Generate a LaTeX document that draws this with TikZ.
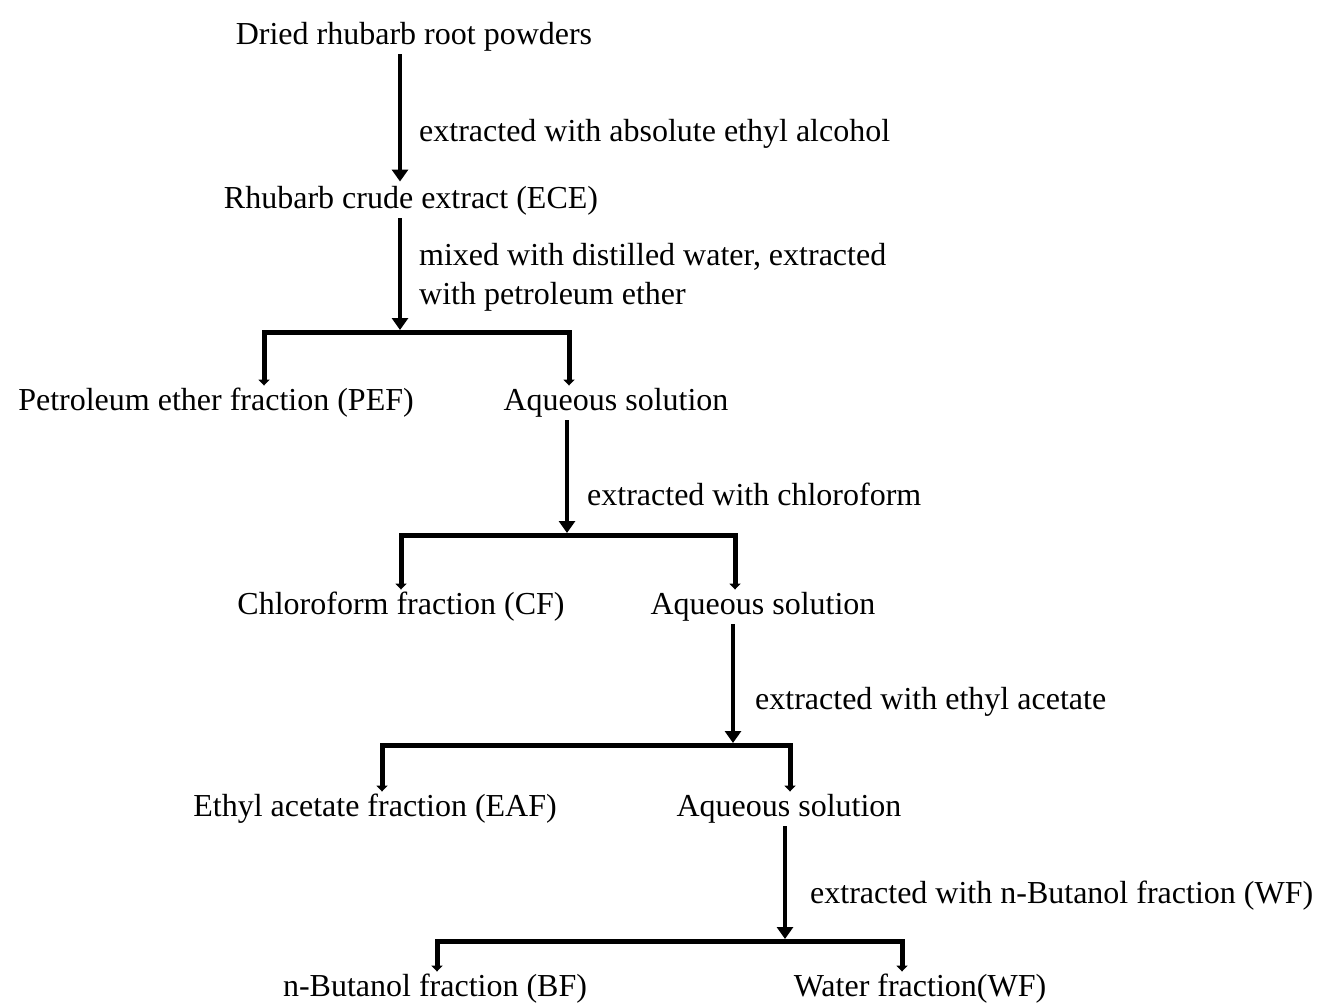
\documentclass[tikz,border=0pt]{standalone}
\usepackage{fontspec}
\setmainfont{Liberation Serif}
\usepackage{tikz}
\usetikzlibrary{arrows.meta}

\begin{document}
\begin{tikzpicture}[x=1pt,y=-1pt,font=\fontsize{32}{39}\selectfont]
  % Styles
  \tikzstyle{stage}=[inner sep=2pt,text height=23pt,text depth=7.5pt,yshift=-3pt]
  \tikzstyle{note}=[anchor=west,align=left,inner sep=0pt]
  \tikzstyle{flow}=[line width=4.5pt,-{Triangle[length=12pt,width=16pt]},shorten >=2pt]
  \tikzstyle{fork}=[line width=5pt,{Triangle[length=6pt,width=11pt]}-{Triangle[length=6pt,width=11pt]}]

  \useasboundingbox (0,0) rectangle (1325,1008);

  % Stages
  \node[stage] (dried) at (414,34) {Dried rhubarb root powders};
  \node[stage] (ece) at (411,198) {Rhubarb crude extract (ECE)};
  \node[stage] (pef) at (216,400) {Petroleum ether fraction (PEF)};
  \node[stage] (aq1) at (616,400) {Aqueous solution};
  \node[stage] (cf) at (401,604) {Chloroform fraction (CF)};
  \node[stage] (aq2) at (763,604) {Aqueous solution};
  \node[stage] (eaf) at (375,806) {Ethyl acetate fraction (EAF)};
  \node[stage] (aq3) at (789,806) {Aqueous solution};
  \node[stage] (bf) at (435,986) {n-Butanol fraction (BF)};
  \node[stage] (wf) at (920,986) {Water fraction(WF)};

  % Step notes
  \node[note] (n1) at (419,134) {extracted with absolute ethyl alcohol};
  \node[note] (n2) at (419,277) {mixed with distilled water, extracted\\with petroleum ether};
  \node[note] (n3) at (587,494) {extracted with chloroform};
  \node[note] (n4) at (755,702) {extracted with ethyl acetate};
  \node[note] (n5) at (810,896) {extracted with n-Butanol fraction (WF)};

  % Fork corners
  \coordinate (f1l) at (264,332); \coordinate (f1r) at (569,332);
  \coordinate (f2l) at (401,535); \coordinate (f2r) at (735,535);
  \coordinate (f3l) at (382,745); \coordinate (f3r) at (790,745);
  \coordinate (f4l) at (437,941); \coordinate (f4r) at (902,941);

  % Main arrows
  \draw[flow] (dried.south -| 400,0) -- (ece.north -| 400,0);
  \draw[flow] (ece.south -| 400,0) -- (f1l -| 400,0);
  \draw[flow] (aq1.south -| 567,0) -- (f2l -| 567,0);
  \draw[flow] (aq2.south -| 733,0) -- (f3l -| 733,0);
  \draw[flow] (aq3.south -| 785,0) -- (f4l -| 785,0);

  % Splits
  \draw[fork] (f1l |- pef.north) -- (f1l) -- (f1r) -- (f1r |- aq1.north);
  \draw[fork] (f2l |- cf.north) -- (f2l) -- (f2r) -- (f2r |- aq2.north);
  \draw[fork] (f3l |- eaf.north) -- (f3l) -- (f3r) -- (f3r |- aq3.north);
  \draw[fork] (f4l |- bf.north) -- (f4l) -- (f4r) -- (f4r |- wf.north);
\end{tikzpicture}
\end{document}
